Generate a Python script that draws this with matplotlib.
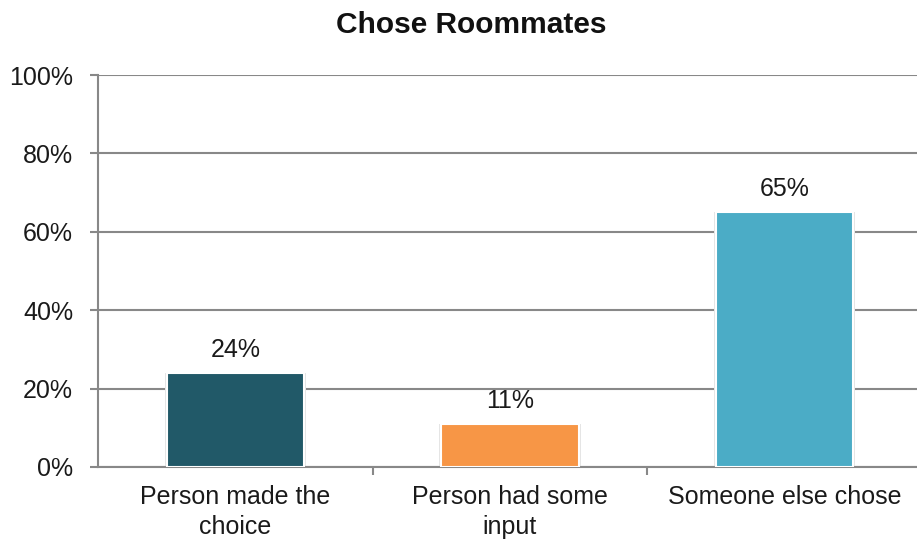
import matplotlib
matplotlib.use("Agg")
import matplotlib.pyplot as plt
from matplotlib.ticker import FuncFormatter

plt.rcParams['font.family'] = ['Liberation Sans', 'DejaVu Sans']

categories = ["Person made the\nchoice", "Person had some\ninput", "Someone else chose"]
values = [24, 11, 65]
bar_colors = ["#215968", "#F79646", "#4BACC6"]
y_ticks = [0, 20, 40, 60, 80, 100]

grid_color = "#888888"
text_color = "#1a1a1a"

fig = plt.figure(figsize=(9.17, 5.44), dpi=100)
ax = fig.add_axes([98 / 917, 77 / 544, 824 / 917, 392 / 544])

x = list(range(len(values)))

# faint shadow behind each bar, then the bar with a white rim
ax.bar(x, values, width=0.515, color="#e4e4e4", edgecolor="none", zorder=2)
ax.bar(x, values, width=0.5, color=bar_colors, edgecolor="white", linewidth=1.5, zorder=3)

for xi, v in zip(x, values):
    ax.annotate(f"{v}%", (xi, v), xytext=(0, 11.5), textcoords="offset points",
                ha="center", va="baseline", fontsize=18, color=text_color)

ax.set_xlim(-0.5, len(values) - 0.5)
ax.set_ylim(0, 100)
ax.set_yticks(y_ticks)
ax.yaxis.set_major_formatter(FuncFormatter(lambda v, p: f"{v:.0f}%"))
ax.yaxis.grid(True, color=grid_color, linewidth=1.5, zorder=0)
ax.set_axisbelow(True)

ax.set_xticks([i - 0.5 for i in range(1, len(values))], minor=False)
ax.set_xticklabels([])
ax.set_xticks(x, minor=True)
ax.set_xticklabels(categories, minor=True, fontsize=18, color=text_color, linespacing=1.3)
ax.tick_params(axis="x", which="minor", length=0, pad=13)
ax.tick_params(axis="x", which="major", length=6, width=1.5, color=grid_color, direction="out")
ax.tick_params(axis="y", length=6, width=1.5, color=grid_color, labelsize=18,
               labelcolor=text_color, pad=12)

for side in ["top", "right"]:
    ax.spines[side].set_visible(False)
for side in ["left", "bottom"]:
    ax.spines[side].set_color(grid_color)
    ax.spines[side].set_linewidth(1.5)

fig.text(471 / 917, 1 - 33 / 544, "Chose Roommates", ha="center", va="baseline",
         fontsize=21.5, fontweight="bold", color="#111111")

fig.savefig("out.png", dpi=100)
